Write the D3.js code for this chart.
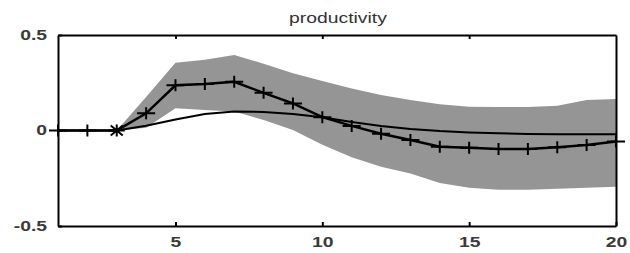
<!DOCTYPE html>
<html>
<head>
<meta charset="utf-8">
<script src="https://cdn.jsdelivr.net/npm/d3@7"></script>
<style>
  body { margin: 0; background: #fff; }
  text { font-family: "Liberation Sans", Arial, sans-serif; }
</style>
</head>
<body>
<div id="chart"></div>
<script>
// impulse response of productivity, periods 1..20
var periods = [1, 2, 3, 4, 5, 6, 7, 8, 9, 10, 11, 12, 13, 14, 15, 16, 17, 18, 19, 20];
var response = [0, 0, 0, 0.09, 0.237, 0.243, 0.255, 0.197, 0.142, 0.07, 0.024, -0.017, -0.05, -0.085, -0.09, -0.097, -0.097, -0.088, -0.076, -0.058];
var baseline = [0, 0, 0, 0.025, 0.058, 0.086, 0.1, 0.097, 0.086, 0.069, 0.044, 0.024, 0.008, -0.003, -0.01, -0.015, -0.018, -0.02, -0.02, -0.02];
var upper = [0, 0, 0, 0.175, 0.355, 0.37, 0.395, 0.35, 0.3, 0.259, 0.22, 0.186, 0.16, 0.138, 0.125, 0.123, 0.123, 0.13, 0.16, 0.165];
var lower = [0, 0, 0, 0.015, 0.116, 0.107, 0.1, 0.055, 0.003, -0.075, -0.14, -0.19, -0.225, -0.275, -0.3, -0.31, -0.31, -0.305, -0.3, -0.295];
var xTicks = [5, 10, 15, 20];
var yTicks = [-0.5, 0, 0.5];
var yTickLabels = ["-0.5", "0", "0.5"];
var title = "productivity";

var svgWidth = 630;
var svgHeight = 253;
var margin = { top: 35, right: 14, bottom: 27, left: 58 };
var width = svgWidth - margin.left - margin.right;
var height = svgHeight - margin.top - margin.bottom;
var stretch = 1.38; // the picture is wider than it is tall

var svg = d3.select("#chart")
  .append("svg")
  .attr("width", svgWidth)
  .attr("height", svgHeight);

var chartGroup = svg.append("g")
  .attr("transform", `translate(${margin.left}, ${margin.top})`);

var xScale = d3.scaleLinear().domain([1, 20]).range([0, width]);
var yScale = d3.scaleLinear().domain([-0.5, 0.5]).range([height, 0]);

var rows = periods.map(function(t, i) {
  return { t: t, r: response[i], b: baseline[i], hi: upper[i], lo: lower[i] };
});

// confidence band
var area = d3.area()
  .x(d => xScale(d.t))
  .y0(d => yScale(d.lo))
  .y1(d => yScale(d.hi));

chartGroup.append("path")
  .datum(rows.filter(d => d.t >= 3))
  .attr("d", area)
  .attr("fill", "#959595");

// baseline response
chartGroup.append("path")
  .datum(rows)
  .attr("d", d3.line().x(d => xScale(d.t)).y(d => yScale(d.b)))
  .attr("fill", "none")
  .attr("stroke", "#000")
  .attr("stroke-width", 2);

// marked response
chartGroup.append("path")
  .datum(rows)
  .attr("d", d3.line().x(d => xScale(d.t)).y(d => yScale(d.r)))
  .attr("fill", "none")
  .attr("stroke", "#000")
  .attr("stroke-width", 2.5);

chartGroup.selectAll(".mark")
  .data(rows)
  .enter()
  .append("path")
  .attr("class", "mark")
  .attr("transform", d => `translate(${xScale(d.t)}, ${yScale(d.r)})`)
  .attr("d", d => d.t === 3 ? "M-8,0H8M0,-6V6M-6,-5L6,5M-6,5L6,-5" : "M-9,0H9M0,-6V6")
  .attr("fill", "none")
  .attr("stroke", "#000")
  .attr("stroke-width", 2);

// axes
var bottomAxis = d3.axisBottom(xScale).tickValues(xTicks).tickSizeInner(-4).tickSizeOuter(0).tickPadding(11);
var leftAxis = d3.axisLeft(yScale).tickValues(yTicks).tickSizeInner(-4).tickSizeOuter(0).tickPadding(11)
  .tickFormat((d, i) => yTickLabels[i]);
var topAxis = d3.axisTop(xScale).tickValues([5, 10, 15]).tickSizeInner(-4).tickSizeOuter(0).tickFormat("");
var rightAxis = d3.axisRight(yScale).tickValues([]).tickSizeOuter(0);

chartGroup.append("g").attr("transform", `translate(0, ${height})`).call(bottomAxis);
chartGroup.append("g").call(leftAxis);
chartGroup.append("g").call(topAxis);
chartGroup.append("g").attr("transform", `translate(${width}, 0)`).call(rightAxis);

chartGroup.selectAll(".domain").attr("stroke", "#000").attr("stroke-width", 2);
chartGroup.selectAll(".tick line").attr("stroke", "#000").attr("stroke-width", 2);
chartGroup.selectAll(".tick text")
  .attr("font-family", "'Liberation Sans', Arial, sans-serif")
  .attr("font-size", 14)
  .attr("font-weight", "bold")
  .attr("fill", "#3a3a3a");

svg.append("text")
  .attr("x", 338)
  .attr("y", 23)
  .attr("text-anchor", "middle")
  .attr("font-size", 14)
  .attr("fill", "#333")
  .text(title);

// widen every label like the reference
svg.selectAll("text").each(function() {
  var len = this.getComputedTextLength();
  if (len > 0) {
    d3.select(this)
      .attr("textLength", len * stretch)
      .attr("lengthAdjust", "spacingAndGlyphs");
  }
});
</script>
</body>
</html>
